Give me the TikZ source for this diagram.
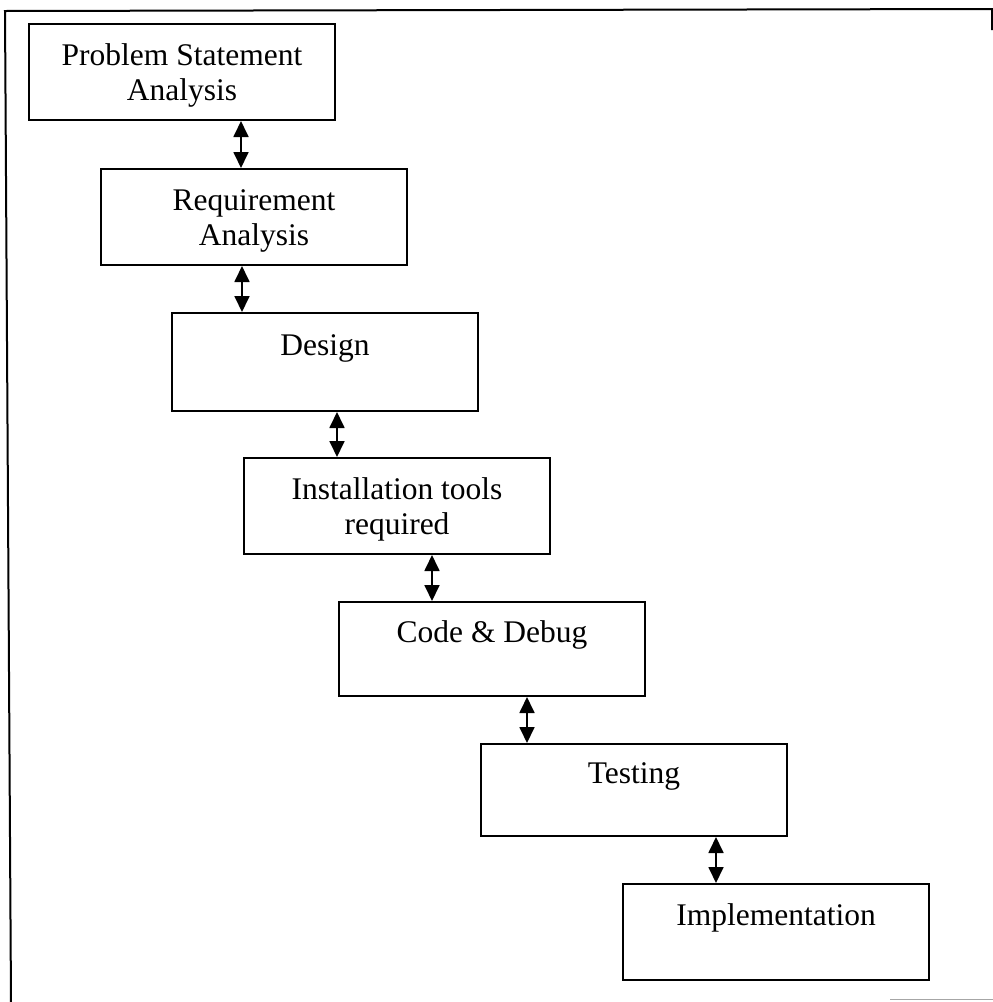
\documentclass[tikz,border=0pt]{standalone}
\usepackage{fontspec}
\setmainfont{Liberation Serif}
\usetikzlibrary{arrows.meta}
\newcommand\mystrut{\rule[-7pt]{0pt}{35pt}}
\begin{document}
\begin{tikzpicture}[x=1pt,y=-1pt,
  stagebox/.style={draw,line width=2pt,anchor=north west,minimum width=306pt,minimum height=96pt,
    inner sep=0pt,align=center,font=\fontsize{31.5}{35}\selectfont},
  arr/.style={line width=1.8pt,{Triangle[length=16pt,width=15pt]}-{Triangle[length=16pt,width=15pt]}},
  frame/.style={line width=2pt}]
\useasboundingbox (0,0) rectangle (993,1002);
% frame
\coordinate (ftl) at (5,11);
\coordinate (ftr) at (992,9);
\coordinate (fbl) at (11,1002);
\coordinate (frs) at (992,30);
\draw[frame] (fbl) -- (ftl) -- (ftr) -- (frs);
\coordinate (gl) at (890,999);
\coordinate (gr) at (993,999);
\draw[gray!70,line width=1pt] (gl) -- (gr);
% stages
\node[stagebox] (b1) at (28,23) {\mystrut Problem Statement\\\mystrut Analysis};
\node[stagebox] (b2) at (100,168) {\mystrut Requirement\\\mystrut Analysis};
\node[stagebox,minimum height=98pt] (b3) at (171,312) {\mystrut Design\\\mystrut};
\node[stagebox] (b4) at (243,457) {\mystrut Installation tools\\\mystrut required};
\node[stagebox,minimum height=94pt] (b5) at (338,601) {\mystrut Code \& Debug\\\mystrut};
\node[stagebox,minimum height=92pt] (b6) at (480,743) {\mystrut Testing\\\mystrut};
\node[stagebox] (b7) at (622,883) {\mystrut Implementation\\\mystrut};
% connectors
\coordinate (x1) at (241,0);
\coordinate (x2) at (242,0);
\coordinate (x3) at (337,0);
\coordinate (x4) at (432,0);
\coordinate (x5) at (527,0);
\coordinate (x6) at (716,0);
\draw[arr] (x1 |- b1.south) -- (x1 |- b2.north);
\draw[arr] (x2 |- b2.south) -- (x2 |- b3.north);
\draw[arr] (x3 |- b3.south) -- (x3 |- b4.north);
\draw[arr] (x4 |- b4.south) -- (x4 |- b5.north);
\draw[arr] (x5 |- b5.south) -- (x5 |- b6.north);
\draw[arr] (x6 |- b6.south) -- (x6 |- b7.north);
\end{tikzpicture}
\end{document}
